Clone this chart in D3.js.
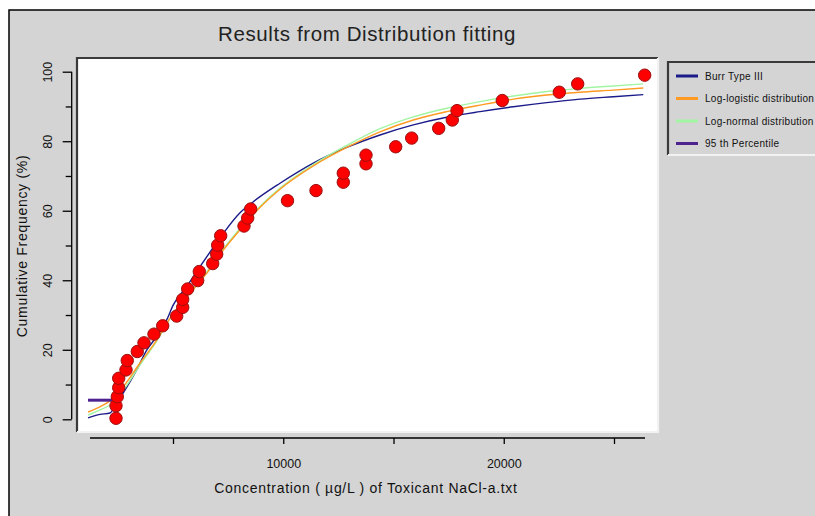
<!DOCTYPE html>
<html lang="en">

<head>
	<title>Results from Distribution fitting</title>
	<meta charset="utf-8">
	<style>
		body {
			margin: 0;
			background: #fff;
		}

		svg {
			display: block;
			font-family: "Liberation Sans", Arial, sans-serif;
		}

		.fit-line {
			fill: none;
			stroke-width: 1.4px;
		}

		.obs {
			fill: #ff0000;
			stroke: #9a1010;
			stroke-width: 1px;
		}
	</style>
</head>

<body>
	<svg width="815" height="516"></svg>

	<script src="https://d3js.org/d3.v7.min.js" charset="utf-8"></script>

	<script type="text/javascript">
		// observed data: concentration (ug/L) and cumulative frequency (%)
		var obsConc = [2415, 2415, 2474, 2537, 2537, 2868, 2927, 3381, 3685, 4138,
			4533, 5168, 5440, 5440, 5667, 6120, 6193, 6800, 6982, 7027,
			7163, 8220, 8388, 8524, 10193, 11485, 12723, 12723, 13753, 13753,
			15100, 15825, 17050, 17667, 17880, 19934, 22519, 23354, 26392];
		var obsFreq = [0.3, 3.9, 6.5, 9.1, 11.8, 14.2, 16.9, 19.5, 22.0, 24.5,
			26.9, 29.7, 32.2, 34.5, 37.5, 39.9, 42.5, 44.8, 47.5, 50.1,
			52.8, 55.6, 57.9, 60.5, 62.9, 65.8, 68.2, 70.8, 73.5, 76.0,
			78.4, 80.9, 83.7, 86.1, 88.8, 91.7, 94.1, 96.5, 99.0];

		// fitted curves
		var burrConc = [1145, 1689, 2143, 2415, 2746, 3354, 3807, 4261, 4714, 5014,
			5621, 6075, 6678, 7281, 8039, 8642, 9853, 11363, 12878, 14388,
			15898, 17413, 18923, 20433, 21948, 23458, 24968, 26328];
		var burrFreq = [0.4, 1.4, 1.8, 4.4, 7.6, 14.2, 19.9, 23.8, 28.6, 32.9,
			38.2, 42.5, 48.1, 53.5, 59.4, 62.6, 67.9, 73.7, 78.2, 81.8,
			84.7, 86.9, 88.5, 89.9, 91.1, 92.1, 92.8, 93.4];

		var logLogConc = [1145, 1689, 2143, 2746, 3503, 4261, 4864, 5771, 6528, 7281,
			8039, 8796, 9853, 11363, 12878, 14388, 15898, 17413, 18923, 20433,
			21948, 23458, 24968, 26328];
		var logLogFreq = [2.1, 3.6, 5.3, 9.4, 16.2, 22.8, 29.1, 36.3, 42.0, 48.7,
			54.5, 60.0, 66.2, 72.9, 78.2, 82.7, 86.1, 88.5, 90.4, 92.1,
			93.3, 94.1, 94.7, 95.3];

		var logNormConc = [1145, 1689, 2143, 2746, 3503, 4261, 4864, 5771, 6528, 7281,
			8039, 8796, 9853, 11363, 12878, 14388, 15898, 17413, 18923, 20433,
			21948, 23458, 24968, 26328];
		var logNormFreq = [1.2, 2.7, 4.1, 8.4, 15.6, 22.5, 28.9, 36.5, 42.4, 49.0,
			54.9, 60.3, 66.5, 73.3, 78.8, 83.6, 87.0, 89.5, 91.4, 93.0,
			94.3, 95.2, 95.9, 96.5];

		// 95th percentile marker (hc5 level)
		var pctConc = [1145, 2415];
		var pctFreq = [5.5, 5.5];

		var xTicks = [5000, 10000, 15000, 20000, 25000];
		var yTicks = [0, 20, 40, 60, 80, 100];
		var yMinor = [10, 30, 50, 70, 90];

		var legendNames = ["Burr Type III", "Log-logistic distribution", "Log-normal distribution", "95 th Percentile"];
		var legendColors = ["#1b1b8a", "#ff9a22", "#a2f5a2", "#4e2390"];

		var svg = d3.select("svg");

		var x = d3.scaleLinear().domain([0, 25000]).range([62.75, 614]);
		var y = d3.scaleLinear().domain([0, 100]).range([419.3, 71.7]);

		// grey window + black frame
		svg.append("rect")
			.attr("x", 9).attr("y", 10)
			.attr("width", 830).attr("height", 520)
			.style("fill", "#d4d4d4")
			.style("stroke", "#000")
			.style("stroke-width", 1.5);

		svg.append("text")
			.attr("x", 367).attr("y", 41)
			.style("text-anchor", "middle")
			.style("font-size", "20.5px")
			.style("letter-spacing", "0.6px")
			.style("fill", "#222")
			.text("Results from Distribution fitting");

		// plot panel (sunken look)
		function sunken(x0, y0, x1, y1, fill) {
			svg.append("rect")
				.attr("x", x0).attr("y", y0)
				.attr("width", x1 - x0).attr("height", y1 - y0)
				.style("fill", fill);
			svg.append("path")
				.attr("d", "M" + x0 + "," + y1 + "V" + y0 + "H" + x1)
				.style("fill", "none").style("stroke", "#3a3a3a").style("stroke-width", 2.2);
			svg.append("path")
				.attr("d", "M" + x0 + "," + y1 + "H" + x1 + "V" + y0)
				.style("fill", "none").style("stroke", "#f2f2f2").style("stroke-width", 2.2);
		}
		sunken(77, 58, 658, 432, "#fff");

		// x axis
		var xAxis = svg.append("g")
			.attr("transform", "translate(0,438)")
			.call(d3.axisBottom(x).tickValues(xTicks).tickSize(6).tickPadding(15)
				.tickFormat(function(d) { return d % 10000 == 0 ? d : ""; }));
		xAxis.select(".domain").remove();
		xAxis.selectAll("line").style("stroke", "#000").style("stroke-width", 1.3);
		xAxis.selectAll("text").style("font-size", "12.5px").style("font-family", "Liberation Sans, Arial").style("fill", "#111");
		xAxis.append("line")
			.attr("x1", 90).attr("x2", 645)
			.style("stroke", "#000").style("stroke-width", 1.5);

		// y axis
		var yAxis = svg.append("g")
			.attr("transform", "translate(71.7,0)")
			.call(d3.axisLeft(y).tickValues(yTicks).tickSize(9));
		yAxis.selectAll("text")
			.attr("x", 0).attr("dy", 0)
			.attr("transform", "translate(-20,0) rotate(-90)")
			.style("text-anchor", "middle")
			.style("font-size", "12.5px").style("font-family", "Liberation Sans, Arial").style("fill", "#111");
		yAxis.select(".domain").attr("d", "M0," + y(100) + "V" + y(0)).style("stroke-width", 1.3);
		yAxis.selectAll("line").style("stroke-width", 1.3);

		svg.append("g")
			.attr("transform", "translate(71.7,0)")
			.call(d3.axisLeft(y).tickValues(yMinor).tickSize(6).tickFormat(""))
			.call(function(g) { g.select(".domain").remove(); })
			.selectAll("line").style("stroke-width", 1.3);

		svg.append("text")
			.attr("transform", "translate(27,246) rotate(-90)")
			.style("text-anchor", "middle")
			.style("font-size", "14px")
			.style("letter-spacing", "0.7px")
			.style("fill", "#111")
			.text("Cumulative Frequency (%)");

		svg.append("text")
			.attr("x", 366).attr("y", 493)
			.style("text-anchor", "middle")
			.style("font-size", "14px")
			.style("letter-spacing", "0.7px")
			.style("fill", "#111")
			.text("Concentration ( \u00b5g/L ) of Toxicant NaCl-a.txt");

		// curves
		var line = d3.line()
			.x(function(d) { return x(d[0]); })
			.y(function(d) { return y(d[1]); })
			.curve(d3.curveMonotoneX);

		var series = [
			[burrConc, burrFreq, legendColors[0]],
			[logNormConc, logNormFreq, legendColors[2]],
			[logLogConc, logLogFreq, legendColors[1]]
		];
		series.forEach(function(s) {
			svg.append("path")
				.datum(d3.zip(s[0], s[1]))
				.attr("class", "fit-line")
				.attr("d", line)
				.style("stroke", s[2]);
		});

		svg.append("path")
			.datum(d3.zip(pctConc, pctFreq))
			.attr("d", line)
			.style("fill", "none")
			.style("stroke", legendColors[3])
			.style("stroke-width", 3);

		svg.selectAll(".obs").data(d3.zip(obsConc, obsFreq))
			.enter().append("circle")
			.attr("class", "obs")
			.attr("cx", function(d) { return x(d[0]); })
			.attr("cy", function(d) { return y(d[1]); })
			.attr("r", 6.2);

		// legend
		sunken(668, 62, 830, 155, "#d4d4d4");
		var leg = svg.selectAll(".legend-row").data(legendNames)
			.enter().append("g")
			.attr("class", "legend-row")
			.attr("transform", function(d, i) { return "translate(676," + (76 + i * 22.5) + ")"; });
		leg.append("line")
			.attr("x1", 0).attr("x2", 22)
			.style("stroke", function(d, i) { return legendColors[i]; })
			.style("stroke-width", 3);
		leg.append("text")
			.attr("x", 29).attr("y", 3.5)
			.style("font-size", "10px")
			.style("letter-spacing", "0.3px")
			.style("fill", "#111")
			.text(function(d) { return d; });
	</script>

</body>

</html>
